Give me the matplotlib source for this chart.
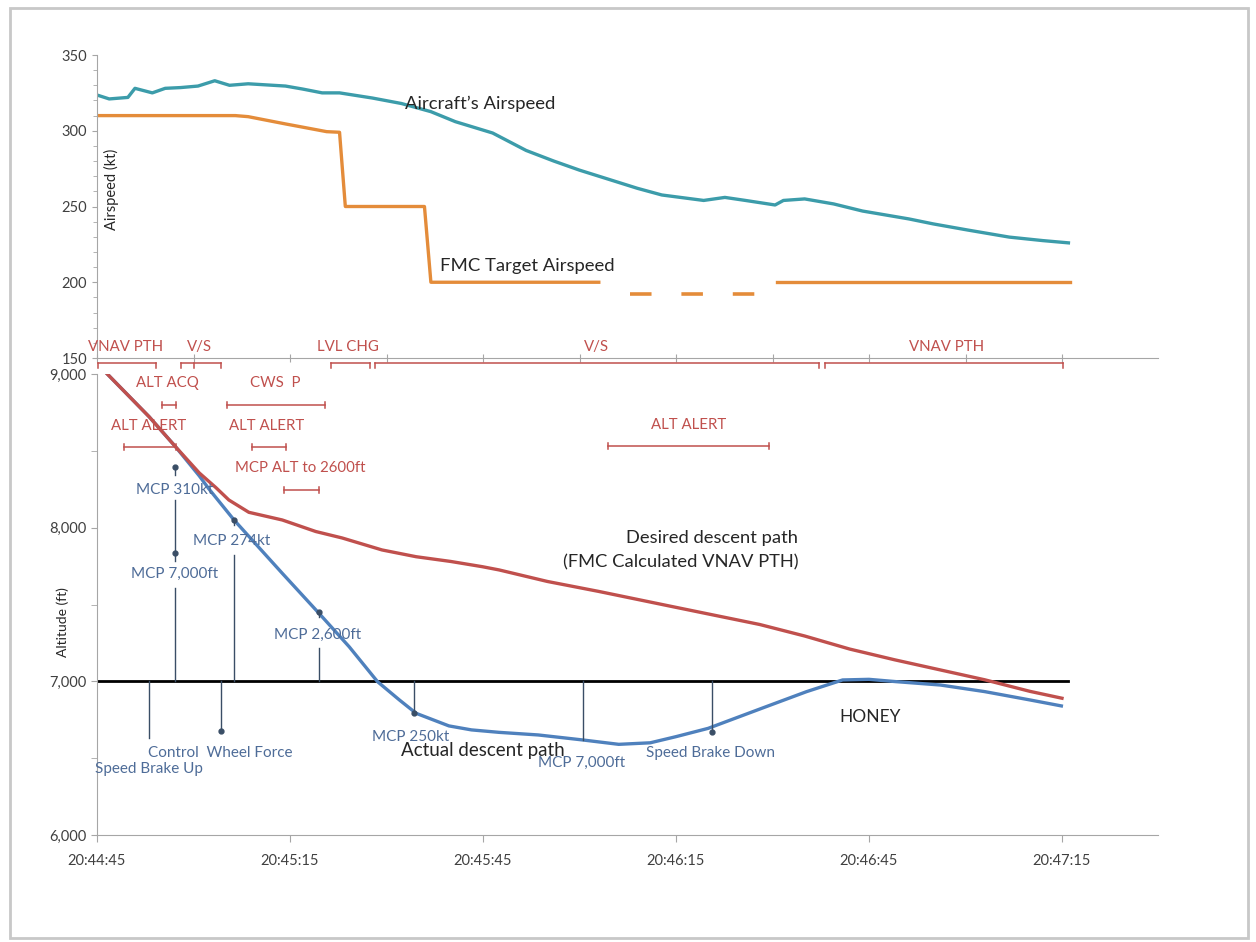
import numpy as np
import matplotlib
matplotlib.use("Agg")
import matplotlib.pyplot as plt
from matplotlib.patches import Rectangle

plt.rcParams['font.family'] = ['Lato', 'DejaVu Sans']

# time in seconds after 20:44:45
tick_seconds = [0, 30, 60, 90, 120, 150]
tick_labels = ['20:44:45', '20:45:15', '20:45:45', '20:46:15', '20:46:45', '20:47:15']

# aircraft airspeed (kt)
spd_t = [0, 1.9, 4.8, 5.9, 8.6, 10.6, 13.0, 15.7, 18.3, 20.6, 23.5, 29.3, 32.0, 35, 37.7,
         42.8, 47.3, 51.9, 55.7, 61.5, 66.7, 71.0, 75, 78, 84, 87.8, 94.3, 97.6, 100.8,
         105.4, 106.7, 110, 114.5, 119, 126.2, 130.0, 135.3, 141.8, 147, 151]
spd_kt = [323.6, 321, 322, 328, 325, 328, 328.5, 329.5, 333, 330, 331, 329.5, 327.5, 325, 325,
          321.6, 318, 312.6, 306, 298.5, 287, 280, 274, 270, 262, 257.6, 254, 256, 254,
          251, 254, 255, 251.7, 247, 241.8, 238.5, 234.5, 229.8, 227.5, 226]

# FMC target airspeed (kt)
fmc_t = [0, 21.5, 23.5, 29.3, 35.7, 37.7, 38.6, 50.9, 51.9, 78]
fmc_kt = [310, 310, 309.3, 304.5, 299.4, 299, 250, 250, 200, 200]
fmc_gap_t = [82.8, 102.3]
fmc_gap_kt = [192, 192]
fmc_end_t = [105.7, 151.2]
fmc_end_kt = [200, 200]

# desired descent path (ft)
des_t = [1.6, 8.1, 12.2, 15.9, 18.5, 20.5, 23.6, 28.8, 34, 38.1, 44.3, 49.6, 55.0, 59.9,
         62.5, 70, 78, 89, 96, 103, 110, 117, 124, 131, 138, 145, 150]
des_ft = [9000, 8722, 8527, 8356, 8260, 8180, 8100, 8050, 7975, 7933, 7855, 7811, 7780, 7746,
          7725, 7650, 7585, 7490, 7430, 7370, 7295, 7210, 7140, 7075, 7010, 6935, 6890]

# actual descent path (ft)
act_t = [1.6, 8.1, 12.2, 15.9, 17.4, 21.3, 28.8, 34.5, 39.2, 43.6, 47, 49.6, 54.7, 58.2,
         62.5, 68.6, 75.6, 81.1, 86, 90, 95, 103.3, 110.3, 115.9, 120, 124.2, 131.1, 138,
         145, 149.9]
act_ft = [9000, 8722, 8527, 8337, 8252, 8050, 7703, 7443, 7225, 6998, 6879, 6792, 6710, 6684,
          6668, 6651, 6618, 6590, 6600, 6640, 6694, 6824, 6933, 7009, 7013, 6998, 6976, 6933,
          6879, 6840]

honey_t = [0, 151]
honey_ft = [7000, 7000]

# autopilot modes along the top
mode_labels = ['VNAV PTH', 'V/S', 'LVL CHG', 'V/S', 'VNAV PTH']
mode_start = [0.2, 13.1, 36.4, 43.2, 113.2]
mode_end = [9.2, 19.3, 42.5, 112.3, 150.2]
mode_text_t = [4.5, 16.0, 39.0, 77.6, 132.0]

# red alerts
alert_labels = ['ALT ACQ', 'CWS  P', 'ALT ALERT', 'ALT ALERT', 'MCP ALT to 2600ft', 'ALT ALERT']
alert_text_t = [11.0, 27.7, 8.1, 26.4, 31.6, 91.9]
alert_text_ft = [8941, 8941, 8662, 8662, 8388, 8668]
alert_start = [10.1, 20.2, 4.2, 24.1, 29.1, 79.5]
alert_end = [12.3, 35.5, 12.3, 29.4, 34.5, 104.5]
alert_bar_ft = [8798, 8798, 8525, 8525, 8245, 8531]

# blue callouts
call_labels = ['MCP 310kt', 'MCP 7,000ft', 'MCP 274kt', 'MCP 2,600ft', 'Control  Wheel Force',
               'Speed Brake Up', 'MCP 250kt', 'MCP 7,000ft', 'Speed Brake Down']
call_text_t = [12.0, 12.0, 21.0, 34.3, 19.1, 8.1, 48.8, 75.3, 95.3]
call_text_ft = [8245, 7699, 7913, 7302, 6534, 6430, 6638, 6469, 6534]
lead_t = [12.1, 12.1, 12.1, 21.3, 21.3, 34.5, 34.5, 19.2, 8.1, 49.3, 75.6, 95.6]
lead_ft0 = [7000, 7783, 8343, 7000, 8050, 7000, 7451, 7000, 7000, 7000, 7000, 7000]
lead_ft1 = [7607, 8180, 8395, 7822, 8020, 7217, 7420, 6677, 6631, 6794, 6618, 6670]
dot_t = [12.1, 12.1, 21.3, 34.5, 19.2, 49.3, 95.6]
dot_ft = [8395, 7835, 8050, 7451, 6677, 6794, 6670]

red = '#C0504D'
blue = '#4F81BD'
teal = '#3C9CAA'
orange = '#E48C3A'
txt_blue = '#4E6C98'
lead_col = '#3A4E66'
spine_col = '#A6A6A6'
lab_col = '#404040'
txt_black = '#262626'

fig = plt.figure(figsize=(12.56, 9.42), dpi=100)
W, H = 1256.0, 942.0
x0, x1 = 97, 1158
t_max = (x1 - x0) / (193 / 30.0)

# outer frame
fig.patches.append(Rectangle((10 / W, 1 - 938 / H), 1238 / W, 930 / H, transform=fig.transFigure,
                             fill=False, ec='#C8C8C8', lw=2))

ax1 = fig.add_axes([x0 / W, 1 - 358 / H, (x1 - x0) / W, (358 - 55) / H])
ax2 = fig.add_axes([x0 / W, 1 - 835 / H, (x1 - x0) / W, (835 - 374) / H])

for ax in (ax1, ax2):
    for s in ('top', 'right'):
        ax.spines[s].set_visible(False)
    for s in ('left', 'bottom'):
        ax.spines[s].set_color(spine_col)
    ax.set_xlim(0, t_max)
    ax.tick_params(colors=spine_col, labelcolor=lab_col, labelsize=10.5)
    ax.tick_params(which='minor', colors=spine_col)

# airspeed panel
ax1.plot(spd_t, spd_kt, color=teal, lw=2.4)
ax1.plot(fmc_t, fmc_kt, color=orange, lw=2.4)
ax1.plot(fmc_gap_t, fmc_gap_kt, color=orange, lw=2.6, dashes=(15.5 / 2.6, 21.5 / 2.6),
         dash_capstyle='butt')
ax1.plot(fmc_end_t, fmc_end_kt, color=orange, lw=2.4)
ax1.set_ylim(150, 350)
ax1.set_yticks(np.arange(150, 351, 50))
ax1.set_yticks(np.arange(150, 351, 10), minor=True)
ax1.set_xticks(np.arange(0, t_max, 15))
ax1.tick_params(axis='x', direction='inout', length=6, labelbottom=False)
ax1.tick_params(axis='y', which='minor', length=3)
ax1.text(47.9, 318, "Aircraft\u2019s Airspeed", fontsize=13.3, color=txt_black, va='center')
ax1.text(53.3, 211, "FMC Target Airspeed", fontsize=13.3, color=txt_black, va='center')
ax1.text(2.3, 261, "Airspeed (kt)", fontsize=10.5, rotation=90, color=txt_black,
         ha='center', va='center')

for lab, a, b, tt in zip(mode_labels, mode_start, mode_end, mode_text_t):
    ax1.plot([a, b], [146.8, 146.8], color=red, lw=1.1, clip_on=False)
    ax1.plot([a, a], [146.8, 143.6], color=red, lw=1.1, clip_on=False)
    ax1.plot([b, b], [146.8, 143.6], color=red, lw=1.1, clip_on=False)
    ax1.text(tt, 157.5, lab, fontsize=10.8, color=red, ha='center', va='center')
ax1.plot([15.1, 15.1], [146.8, 143.6], color=red, lw=1.1, clip_on=False)

# altitude panel
ax2.plot(honey_t, honey_ft, color='black', lw=2.0)
ax2.plot(act_t, act_ft, color=blue, lw=2.4)
ax2.plot(des_t, des_ft, color=red, lw=2.4)
ax2.set_ylim(6000, 9000)
ax2.set_yticks([6000, 7000, 8000, 9000])
ax2.set_yticklabels([f'{v:,}' for v in [6000, 7000, 8000, 9000]])
ax2.set_yticks(np.arange(6000, 9001, 500), minor=True)
ax2.set_xticks(tick_seconds)
ax2.set_xticklabels(tick_labels)
ax2.tick_params(axis='x', length=5, pad=9)
ax2.tick_params(axis='y', which='both', length=4)

for lab, tt, ff, a, b, fb in zip(alert_labels, alert_text_t, alert_text_ft,
                                 alert_start, alert_end, alert_bar_ft):
    ax2.text(tt, ff, lab, fontsize=10.8, color=red, ha='center', va='center')
    ax2.plot([a, b], [fb, fb], color=red, lw=1.1)
    ax2.plot([a, a], [fb - 22, fb + 22], color=red, lw=1.1)
    ax2.plot([b, b], [fb - 22, fb + 22], color=red, lw=1.1)

for t, f0, f1 in zip(lead_t, lead_ft0, lead_ft1):
    ax2.plot([t, t], [f0, f1], color=lead_col, lw=1.0)
ax2.plot(dot_t, dot_ft, 'o', color=lead_col, ms=3.5, ls='none')

for lab, tt, ff in zip(call_labels, call_text_t, call_text_ft):
    ax2.text(tt, ff, lab, fontsize=11, color=txt_blue, ha='center', va='center')

ax2.text(47.3, 6553, "Actual descent path", fontsize=13.5, color=txt_black, va='center')
ax2.text(120.2, 6768, "HONEY", fontsize=12.5, color=txt_black, ha='center', va='center')
ax2.text(109.0, 7933, "Desired descent path", fontsize=13.2, color=txt_black, ha='right',
         va='center')
ax2.text(109.0, 7776, "(FMC Calculated VNAV PTH)", fontsize=13.2, color=txt_black, ha='right',
         va='center')
fig.text(63 / W, 1 - 622 / H, "Altitude (ft)", fontsize=10, rotation=90, color=txt_black,
         ha='center', va='center')

fig.savefig('out.png', dpi=100)
